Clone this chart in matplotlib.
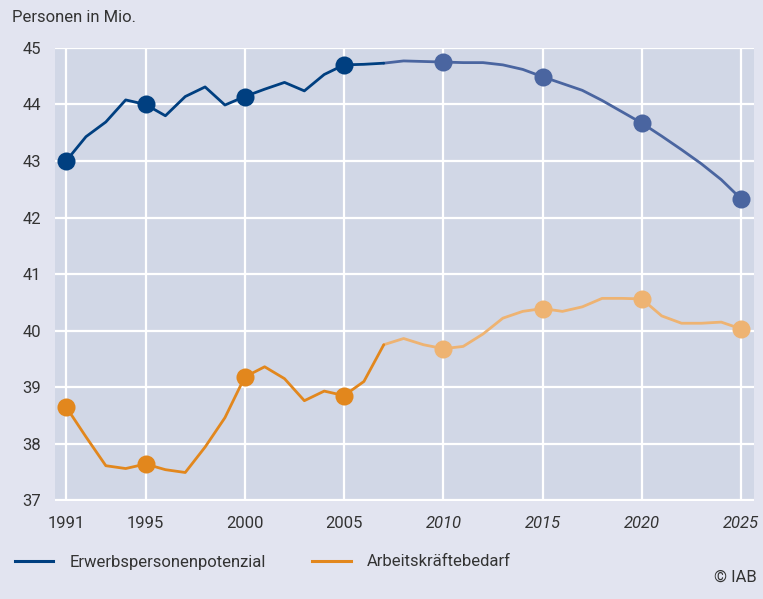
import matplotlib
matplotlib.use("Agg")
import matplotlib.pyplot as plt
from matplotlib.lines import Line2D

years = list(range(1991, 2026))
erwerbspersonenpotenzial = [43.00, 43.43, 43.69, 44.08, 44.00, 43.80, 44.14, 44.31, 43.99, 44.14,
                            44.27, 44.39, 44.24, 44.53, 44.70, 44.71, 44.73, 44.77, 44.76, 44.75,
                            44.74, 44.74, 44.70, 44.62, 44.49, 44.37, 44.25, 44.07, 43.87, 43.67,
                            43.44, 43.20, 42.95, 42.67, 42.33]
arbeitskraeftebedarf = [38.65, 38.12, 37.61, 37.56, 37.64, 37.54, 37.49, 37.94, 38.46, 39.18,
                        39.36, 39.15, 38.76, 38.93, 38.85, 39.10, 39.75, 39.86, 39.75, 39.68,
                        39.72, 39.94, 40.22, 40.34, 40.39, 40.34, 40.42, 40.57, 40.57, 40.56,
                        40.26, 40.13, 40.13, 40.15, 40.03]
marker_years = [1991, 1995, 2000, 2005, 2010, 2015, 2020, 2025]
projection_start = 2007
xtick_labels = ["1991", "1995", "2000", "2005", "2010", "2015", "2020", "2025"]
ytick_values = [37, 38, 39, 40, 41, 42, 43, 44, 45]
series_labels = ["Erwerbspersonenpotenzial", "Arbeitskräftebedarf"]

plt.rcParams['font.family'] = ['Roboto', 'DejaVu Sans']

BG = "#e2e4f0"
AXBG = "#d1d7e6"
BLUE_D = "#003f80"
BLUE_L = "#4a65a0"
OR_D = "#e2871d"
OR_L = "#eeb372"
TXT = "#333333"
FS = 12

fig = plt.figure(figsize=(7.63, 5.99), dpi=100, facecolor=BG)
ax = fig.add_axes([0.0721, 0.164, 0.9161, 0.756])
ax.set_facecolor(AXBG)

def draw(values, cd, cl):
    i0 = years.index(projection_start)
    ax.plot(years[i0:], values[i0:], color=cl, lw=2.0, solid_capstyle='round', zorder=3)
    ax.plot(years[:i0 + 1], values[:i0 + 1], color=cd, lw=2.0, solid_capstyle='round', zorder=4)
    for y in marker_years:
        c = cd if y < projection_start else cl
        ax.plot([y], [values[years.index(y)]], 'o', color=c, ms=13, mec='none', zorder=5)

draw(erwerbspersonenpotenzial, BLUE_D, BLUE_L)
draw(arbeitskraeftebedarf, OR_D, OR_L)

ax.set_xlim(1990.44, 2025.65)
ax.set_ylim(36.99, 44.97)
ax.set_xticks(marker_years)
ax.set_xticklabels(xtick_labels)
for lab, y in zip(ax.get_xticklabels(), marker_years):
    if y >= 2010:
        lab.set_style('italic')
ax.set_yticks(ytick_values)
ax.set_yticklabels([str(v) for v in ytick_values])
ax.tick_params(axis='both', length=0, labelsize=FS, colors=TXT)
ax.tick_params(axis='x', pad=11)
ax.tick_params(axis='y', pad=10)
ax.grid(True, color='white', lw=1.6, zorder=1)
ax.set_axisbelow(True)
for s in ax.spines.values():
    s.set_visible(False)

fig.text(12 / 763, 1 - 17 / 599, "Personen in Mio.", fontsize=FS, color=TXT, va='center', ha='left')

handles = [Line2D([], [], color=BLUE_D, lw=2.2), Line2D([], [], color=OR_D, lw=2.2)]
fig.legend(handles, series_labels, loc='center left', bbox_to_anchor=(15 / 763, 1 - 562 / 599),
           ncol=2, frameon=False, fontsize=FS, handlelength=2.3, handletextpad=0.95,
           columnspacing=2.8, borderpad=0, borderaxespad=0, labelcolor=TXT)
fig.text(757 / 763, 1 - 577 / 599, "© IAB", fontsize=FS, color=TXT, ha='right', va='center')

fig.savefig("out.png", dpi=100, facecolor=BG)
